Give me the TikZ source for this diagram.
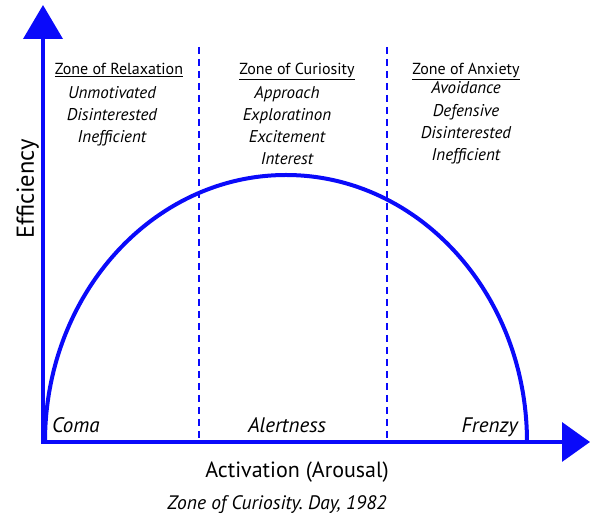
\documentclass[tikz,border=0pt]{standalone}
\usepackage{fontspec}
\setmainfont{PT Sans}
\usetikzlibrary{arrows.meta}
\definecolor{axisblue}{RGB}{10,10,250}
\frenchspacing
\tikzset{
  axisline/.style={draw=axisblue, line width=4pt},
  zoneline/.style={draw=axisblue, line width=2.6pt, dash pattern=on 7.5pt off 4.5pt},
  curve/.style={draw=axisblue, line width=4pt},
  heading/.style={anchor=base, inner sep=0pt, font=\fontsize{16}{20}\selectfont},
  trait/.style={anchor=base, inner sep=0pt, font=\fontsize{17}{22}\selectfont\itshape},
  level/.style={anchor=base, inner sep=0pt, font=\fontsize{21}{24}\selectfont\itshape},
  axislabel/.style={anchor=base, inner sep=0pt, font=\fontsize{22}{26}\selectfont},
}
\begin{document}
\begin{tikzpicture}[x=1pt, y=-1pt]
  \useasboundingbox (0,0) rectangle (590,518);

  % axes
  \coordinate (origin) at (43,442);
  \coordinate (ytip) at (43,5);
  \coordinate (xtip) at (590,442);
  \draw[axisline, -{Triangle[length=34pt, width=39pt]}] (origin) ++(0,2) -- (ytip);
  \draw[axisline, line width=3.5pt, -{Triangle[length=28pt, width=39pt]}] (origin) ++(-2,0) -- (xtip);

  % zone boundaries
  \coordinate (b1top) at (199,47);
  \coordinate (b1bot) at (199,442);
  \coordinate (b2top) at (387,47);
  \coordinate (b2bot) at (387,442);
  \draw[zoneline] (b1top) -- (b1bot);
  \draw[zoneline] (b2top) -- (b2bot);

  % performance curve
  \draw[curve] (45,442) arc[start angle=180, end angle=0, x radius=241pt, y radius=267pt];

  % zone headings
  \node[heading] (hRelax) at (119,75) {\underline{Zone of Relaxation}};
  \node[heading] (hCurio) at (297,75) {\underline{Zone of Curiosity}};
  \node[heading] (hAnx) at (466,75) {\underline{Zone of Anxiety}};

  % zone traits, one line per node
  \foreach \t [count=\i] in {Unmotivated, Disinterested, Inefficient}
    \node[trait] (relax\i) at (112, 99+22*\i-22) {\t};
  \foreach \t [count=\i] in {Approach, Exploratinon, Excitement, Interest}
    \node[trait] (curio\i) at (287, 99+22*\i-22) {\t};
  \foreach \t [count=\i] in {Avoidance, Defensive, Disinterested, Inefficient}
    \node[trait] (anx\i) at (466, 94+22.3*\i-22.3) {\t};

  % activation levels
  \node[level, anchor=base west] (coma) at (52,433) {Coma};
  \node[level] (alert) at (287,433) {Alertness};
  \node[level, anchor=base east] (frenzy) at (518,433) {Frenzy};

  % axis labels and source
  \node[axislabel] (xlabel) at (297,478) {Activation (Arousal)};
  \node[axislabel, rotate=90, font=\fontsize{24.5}{28}\selectfont] (ylabel) at (34,189) {Efficiency};
  \node[level, font=\fontsize{19.5}{24}\selectfont\itshape] (source) at (277,510) {Zone of Curiosity. Day, 1982};
\end{tikzpicture}
\end{document}
